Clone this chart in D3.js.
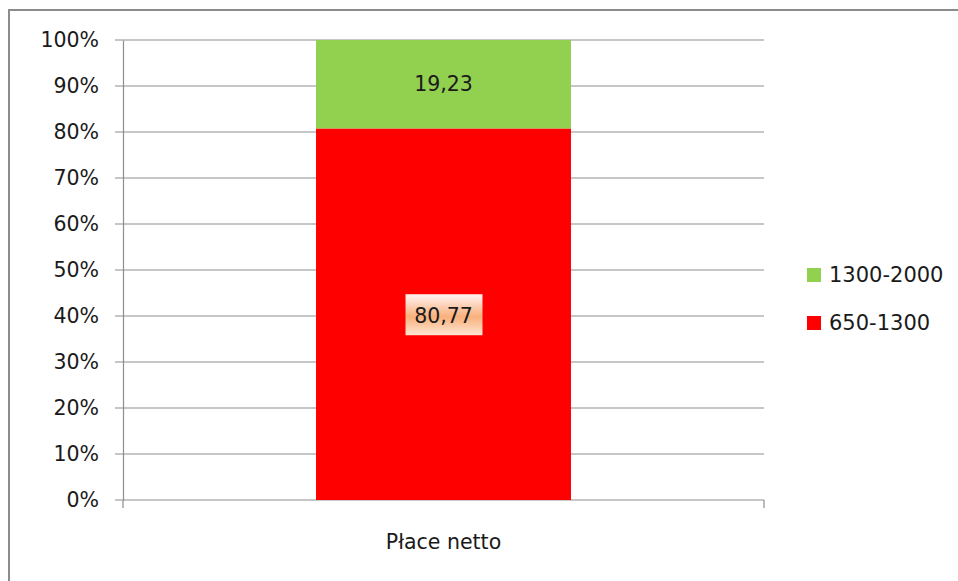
<!DOCTYPE html>
<html><head><meta charset="utf-8">
<script src="https://cdn.jsdelivr.net/npm/d3@7"></script>
<style>body{margin:0;background:#fff}svg{display:block}</style>
</head><body>
<script>
const categories = ["Płace netto"];
const seriesNames = ["650-1300", "1300-2000"];
const seriesValues = [[80.77], [19.23]];
const seriesLabels = ["80,77", "19,23"];
const seriesColors = ["#ff0000", "#92d050"];
const yTicks = [0, 0.1, 0.2, 0.3, 0.4, 0.5, 0.6, 0.7, 0.8, 0.9, 1.0];

const W = 958, H = 581;
const svg = d3.select("body").append("svg").attr("width", W).attr("height", H);
const font = "DejaVu Sans";

// outer border
svg.append("rect").attr("x", 9).attr("y", 10).attr("width", 960).attr("height", 600)
  .attr("fill", "none").attr("stroke", "#8c8c8c").attr("stroke-width", 2);

const x = d3.scaleBand().domain(categories).range([123, 764]).paddingInner(0).paddingOuter(0.757);
const y = d3.scaleLinear().domain([0, 1]).range([500, 40]);

// gridlines
svg.append("g").selectAll("line").data(yTicks).join("line")
  .attr("x1", 115).attr("x2", 764)
  .attr("y1", d => y(d)).attr("y2", d => y(d))
  .attr("stroke", "#8e8e8e").attr("stroke-width", 1.2);

// y axis
const yAxis = d3.axisLeft(y).tickValues(yTicks).tickFormat(d3.format(".0%")).tickSize(0).tickPadding(24);
const gy = svg.append("g").attr("transform", "translate(123,0)").call(yAxis);
gy.select(".domain").attr("stroke", "#8e8e8e").attr("stroke-width", 1.2);
gy.selectAll("text").attr("font-family", font).attr("font-size", 20.5).attr("fill", "#1a1a1a");

// x axis
const xAxis = d3.axisBottom(x).tickSize(0).tickPadding(34);
const gx = svg.append("g").attr("transform", "translate(0,500)").call(xAxis);
gx.select(".domain").remove();
gx.selectAll("text").attr("font-family", font).attr("font-size", 20.5).attr("fill", "#1a1a1a");
svg.append("g").selectAll("line").data([123, 764]).join("line")
  .attr("x1", d => d).attr("x2", d => d).attr("y1", 500).attr("y2", 508)
  .attr("stroke", "#8e8e8e").attr("stroke-width", 1.2);

// stacked bars
const stackData = categories.map((c, i) => {
  const o = {cat: c};
  seriesNames.forEach((s, j) => o[s] = seriesValues[j][i]);
  return o;
});
const stack = d3.stack().keys(seriesNames).offset(d3.stackOffsetExpand);
const layers = stack(stackData);

const defs = svg.append("defs");
const grad = defs.append("linearGradient").attr("id", "lblGrad").attr("x1", 0).attr("x2", 0).attr("y1", 0).attr("y2", 1);
grad.append("stop").attr("offset", "0%").attr("stop-color", "#fff3f3");
grad.append("stop").attr("offset", "55%").attr("stop-color", "#f9b07c");
grad.append("stop").attr("offset", "100%").attr("stop-color", "#fde6d2");

layers.forEach((layer, j) => {
  svg.append("g").selectAll("rect").data(layer).join("rect")
    .attr("x", d => x(d.data.cat)).attr("width", x.bandwidth())
    .attr("y", d => y(d[1])).attr("height", d => y(d[0]) - y(d[1]))
    .attr("fill", seriesColors[j]);
});

// data labels
layers.forEach((layer, j) => {
  layer.forEach(d => {
    const cx = x(d.data.cat) + x.bandwidth() / 2;
    const cy = (y(d[0]) + y(d[1])) / 2;
    if (j === 0) {
      svg.append("rect").attr("x", cx - 38).attr("y", cy - 20).attr("width", 77).attr("height", 41)
        .attr("fill", "url(#lblGrad)");
    }
    svg.append("text").attr("x", cx).attr("y", j === 0 ? cy + 2 : cy)
      .attr("text-anchor", "middle").attr("dominant-baseline", "central")
      .attr("font-family", font).attr("font-size", 20.5).attr("fill", "#1a1a1a")
      .text(seriesLabels[j]);
  });
});

// legend
const legendItems = [seriesNames[1], seriesNames[0]];
const legendColors = [seriesColors[1], seriesColors[0]];
const lg = svg.append("g");
legendItems.forEach((name, i) => {
  const cy = 275 + i * 48;
  lg.append("rect").attr("x", 807).attr("y", cy - 7).attr("width", 14).attr("height", 14).attr("fill", legendColors[i]);
  lg.append("text").attr("x", 829).attr("y", cy).attr("dominant-baseline", "central")
    .attr("font-family", font).attr("font-size", 21).attr("fill", "#1a1a1a").text(name);
});
</script>
</body></html>
